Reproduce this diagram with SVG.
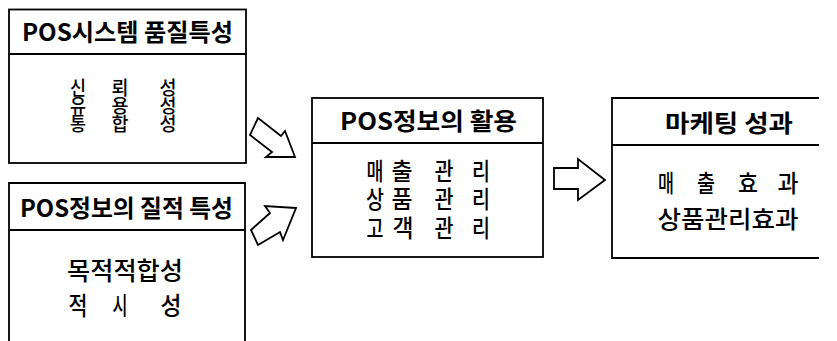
<svg xmlns="http://www.w3.org/2000/svg" width="837" height="341" viewBox="0 0 837 341">
<style>
.box{fill:none;stroke:#000;stroke-width:1.8}
.arr{fill:#fff;stroke:#000;stroke-width:1.8;stroke-linejoin:miter}
.h{font-family:"Noto Sans CJK KR","Noto Sans",sans-serif;font-weight:bold;font-size:24px;fill:#000}
.t{font-family:"Noto Sans CJK KR","Noto Sans",sans-serif;font-weight:500;font-size:24px;fill:#000;text-anchor:middle}
.s{font-size:19px}
.l{font-size:25px}
</style>
<rect width="837" height="341" fill="#fff"/>
<g id="node-system-quality">
<rect class="box" x="9" y="9.5" width="237" height="153.5"/>
<line class="box" x1="9" y1="54" x2="246" y2="54"/>
<text class="h" x="22" y="41" textLength="211" lengthAdjust="spacingAndGlyphs">POS시스템 품질특성</text>
<g class="t s">
<text x="78" y="95" textLength="16" lengthAdjust="spacingAndGlyphs">신</text><text x="120" y="95" textLength="17" lengthAdjust="spacingAndGlyphs">뢰</text><text x="168" y="95" textLength="17" lengthAdjust="spacingAndGlyphs">성</text>
<text x="78" y="113" textLength="16" lengthAdjust="spacingAndGlyphs">유</text><text x="120" y="113" textLength="17" lengthAdjust="spacingAndGlyphs">용</text><text x="168" y="113" textLength="17" lengthAdjust="spacingAndGlyphs">성</text>
<text x="78" y="131" textLength="16" lengthAdjust="spacingAndGlyphs">통</text><text x="120" y="131" textLength="17" lengthAdjust="spacingAndGlyphs">합</text><text x="168" y="131" textLength="17" lengthAdjust="spacingAndGlyphs">성</text>
</g>
</g>
<g id="node-info-quality">
<path class="box" d="M9,341 V183 H245 V341"/>
<line class="box" x1="9" y1="230" x2="245" y2="230"/>
<text class="h" x="20" y="217" textLength="213" lengthAdjust="spacingAndGlyphs">POS정보의 질적 특성</text>
<text class="t l" x="125" y="280" textLength="116" lengthAdjust="spacingAndGlyphs">목적적합성</text>
<g class="t l">
<text x="78" y="315" textLength="19" lengthAdjust="spacingAndGlyphs">적</text><text x="120" y="315" textLength="15" lengthAdjust="spacingAndGlyphs">시</text><text x="171" y="315" textLength="21" lengthAdjust="spacingAndGlyphs">성</text>
</g>
</g>
<g id="node-info-usage">
<rect class="box" x="312" y="98" width="231" height="159"/>
<line class="box" x1="312" y1="143" x2="543" y2="143"/>
<text class="h" x="340" y="130" textLength="177" lengthAdjust="spacingAndGlyphs">POS정보의 활용</text>
<g class="t">
<text x="375" y="180" textLength="17" lengthAdjust="spacingAndGlyphs">매</text><text x="402" y="180" textLength="21" lengthAdjust="spacingAndGlyphs">출</text><text x="444" y="180" textLength="19" lengthAdjust="spacingAndGlyphs">관</text><text x="481" y="180" textLength="18" lengthAdjust="spacingAndGlyphs">리</text>
<text x="375" y="208" textLength="18" lengthAdjust="spacingAndGlyphs">상</text><text x="402" y="208" textLength="21" lengthAdjust="spacingAndGlyphs">품</text><text x="444" y="208" textLength="19" lengthAdjust="spacingAndGlyphs">관</text><text x="481" y="208" textLength="18" lengthAdjust="spacingAndGlyphs">리</text>
<text x="375" y="237" textLength="17" lengthAdjust="spacingAndGlyphs">고</text><text x="403" y="237" textLength="21" lengthAdjust="spacingAndGlyphs">객</text><text x="444" y="237" textLength="19" lengthAdjust="spacingAndGlyphs">관</text><text x="481" y="237" textLength="18" lengthAdjust="spacingAndGlyphs">리</text>
</g>
</g>
<g id="node-marketing">
<path class="box" d="M819,98 H612 V258 H819"/>
<line class="box" x1="612" y1="145" x2="819" y2="145"/>
<text class="h" x="665" y="132" textLength="128" lengthAdjust="spacingAndGlyphs">마케팅 성과</text>
<g class="t">
<text x="666" y="192" textLength="16" lengthAdjust="spacingAndGlyphs">매</text><text x="706" y="192" textLength="18" lengthAdjust="spacingAndGlyphs">출</text><text x="748" y="192" textLength="20" lengthAdjust="spacingAndGlyphs">효</text><text x="788" y="192" textLength="21" lengthAdjust="spacingAndGlyphs">과</text>
</g>
<text class="t" x="728" y="228" textLength="141" lengthAdjust="spacingAndGlyphs">상품관리효과</text>
</g>
<g id="connectors">
<polygon class="arr" points="258,118 281,136 285,131 295,157 266,157 272,152 250,135"/>
<polygon class="arr" points="296,208 265,206 270,213 251,230 258,245 280,232 283,240"/>
<polygon class="arr" points="554,168 578,168 578,159 605,180 578,200 578,189 554,189"/>
</g>
</svg>
